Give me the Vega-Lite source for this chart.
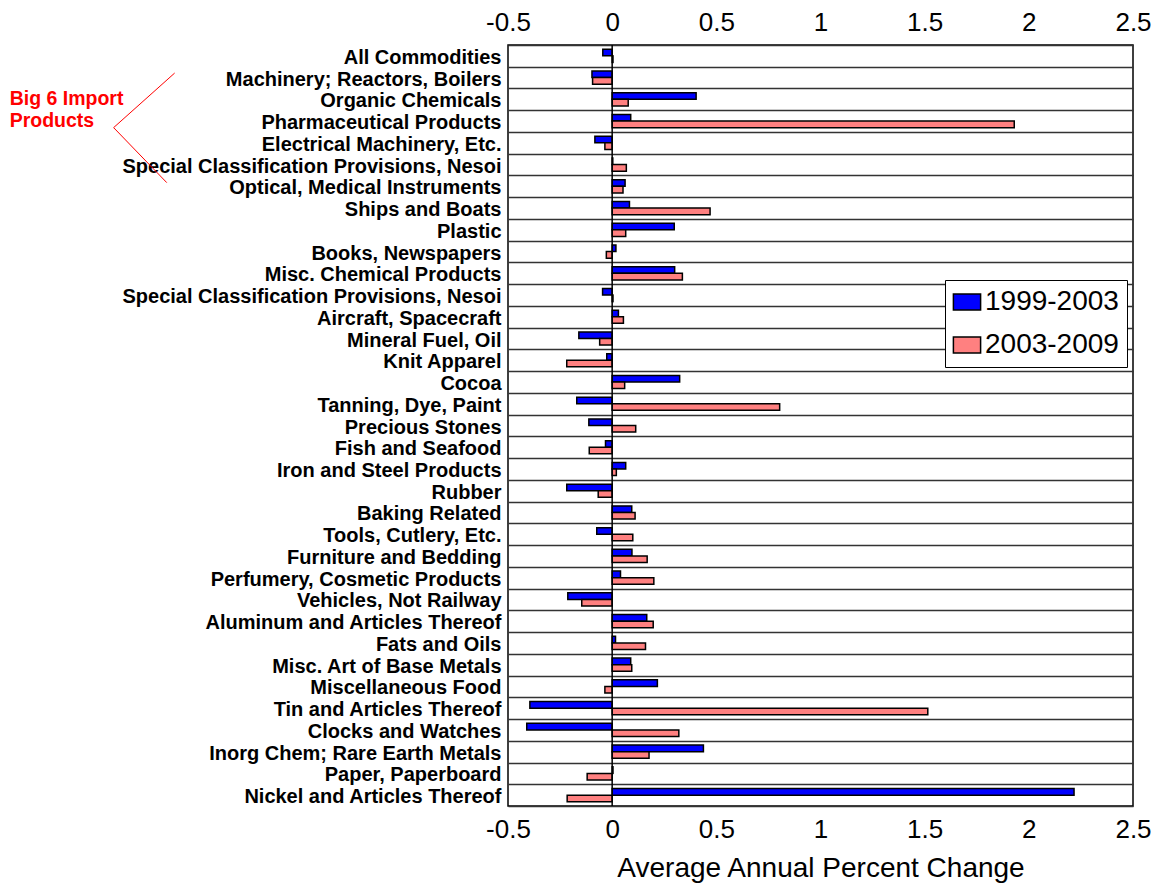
{
  "$schema": "https://vega.github.io/schema/vega-lite/v6.json",
  "width": 625,
  "height": 761,
  "autosize": {"type": "none"},
  "padding": {"left": 508, "top": 45, "right": 25, "bottom": 87},
  "background": "white",
  "config": {"view": {"stroke": "black", "strokeWidth": 1.5}, "font": "Liberation Sans"},
  "data": {"values": [
    {"cat": "All Commodities", "period": "1999-2003", "value": -0.045},
    {"cat": "All Commodities", "period": "2003-2009", "value": 0.004},
    {"cat": "Machinery; Reactors, Boilers", "period": "1999-2003", "value": -0.097},
    {"cat": "Machinery; Reactors, Boilers", "period": "2003-2009", "value": -0.094},
    {"cat": "Organic Chemicals", "period": "1999-2003", "value": 0.403},
    {"cat": "Organic Chemicals", "period": "2003-2009", "value": 0.077},
    {"cat": "Pharmaceutical Products", "period": "1999-2003", "value": 0.089},
    {"cat": "Pharmaceutical Products", "period": "2003-2009", "value": 1.93},
    {"cat": "Electrical Machinery, Etc.", "period": "1999-2003", "value": -0.083},
    {"cat": "Electrical Machinery, Etc.", "period": "2003-2009", "value": -0.035},
    {"cat": "Special Classification Provisions, Nesoi", "period": "1999-2003", "value": 0.003},
    {"cat": "Special Classification Provisions, Nesoi", "period": "2003-2009", "value": 0.068},
    {"cat": "Optical, Medical Instruments", "period": "1999-2003", "value": 0.062},
    {"cat": "Optical, Medical Instruments", "period": "2003-2009", "value": 0.052},
    {"cat": "Ships and Boats", "period": "1999-2003", "value": 0.083},
    {"cat": "Ships and Boats", "period": "2003-2009", "value": 0.47},
    {"cat": "Plastic", "period": "1999-2003", "value": 0.298},
    {"cat": "Plastic", "period": "2003-2009", "value": 0.065},
    {"cat": "Books, Newspapers", "period": "1999-2003", "value": 0.018},
    {"cat": "Books, Newspapers", "period": "2003-2009", "value": -0.028},
    {"cat": "Misc. Chemical Products", "period": "1999-2003", "value": 0.3},
    {"cat": "Misc. Chemical Products", "period": "2003-2009", "value": 0.337},
    {"cat": "Special Classification Provisions, Nesoi#2", "period": "1999-2003", "value": -0.046},
    {"cat": "Special Classification Provisions, Nesoi#2", "period": "2003-2009", "value": 0.004},
    {"cat": "Aircraft, Spacecraft", "period": "1999-2003", "value": 0.03},
    {"cat": "Aircraft, Spacecraft", "period": "2003-2009", "value": 0.054},
    {"cat": "Mineral Fuel, Oil", "period": "1999-2003", "value": -0.16},
    {"cat": "Mineral Fuel, Oil", "period": "2003-2009", "value": -0.06},
    {"cat": "Knit Apparel", "period": "1999-2003", "value": -0.026},
    {"cat": "Knit Apparel", "period": "2003-2009", "value": -0.218},
    {"cat": "Cocoa", "period": "1999-2003", "value": 0.324},
    {"cat": "Cocoa", "period": "2003-2009", "value": 0.06},
    {"cat": "Tanning, Dye, Paint", "period": "1999-2003", "value": -0.17},
    {"cat": "Tanning, Dye, Paint", "period": "2003-2009", "value": 0.804},
    {"cat": "Precious Stones", "period": "1999-2003", "value": -0.112},
    {"cat": "Precious Stones", "period": "2003-2009", "value": 0.113},
    {"cat": "Fish and Seafood", "period": "1999-2003", "value": -0.032},
    {"cat": "Fish and Seafood", "period": "2003-2009", "value": -0.11},
    {"cat": "Iron and Steel Products", "period": "1999-2003", "value": 0.065},
    {"cat": "Iron and Steel Products", "period": "2003-2009", "value": 0.02},
    {"cat": "Rubber", "period": "1999-2003", "value": -0.218},
    {"cat": "Rubber", "period": "2003-2009", "value": -0.067},
    {"cat": "Baking Related", "period": "1999-2003", "value": 0.094},
    {"cat": "Baking Related", "period": "2003-2009", "value": 0.11},
    {"cat": "Tools, Cutlery, Etc.", "period": "1999-2003", "value": -0.074},
    {"cat": "Tools, Cutlery, Etc.", "period": "2003-2009", "value": 0.099},
    {"cat": "Furniture and Bedding", "period": "1999-2003", "value": 0.095},
    {"cat": "Furniture and Bedding", "period": "2003-2009", "value": 0.168},
    {"cat": "Perfumery, Cosmetic Products", "period": "1999-2003", "value": 0.04},
    {"cat": "Perfumery, Cosmetic Products", "period": "2003-2009", "value": 0.2},
    {"cat": "Vehicles, Not Railway", "period": "1999-2003", "value": -0.213},
    {"cat": "Vehicles, Not Railway", "period": "2003-2009", "value": -0.146},
    {"cat": "Aluminum and Articles Thereof", "period": "1999-2003", "value": 0.166},
    {"cat": "Aluminum and Articles Thereof", "period": "2003-2009", "value": 0.197},
    {"cat": "Fats and Oils", "period": "1999-2003", "value": 0.016},
    {"cat": "Fats and Oils", "period": "2003-2009", "value": 0.16},
    {"cat": "Misc. Art of Base Metals", "period": "1999-2003", "value": 0.089},
    {"cat": "Misc. Art of Base Metals", "period": "2003-2009", "value": 0.094},
    {"cat": "Miscellaneous Food", "period": "1999-2003", "value": 0.217},
    {"cat": "Miscellaneous Food", "period": "2003-2009", "value": -0.035},
    {"cat": "Tin and Articles Thereof", "period": "1999-2003", "value": -0.395},
    {"cat": "Tin and Articles Thereof", "period": "2003-2009", "value": 1.515},
    {"cat": "Clocks and Watches", "period": "1999-2003", "value": -0.41},
    {"cat": "Clocks and Watches", "period": "2003-2009", "value": 0.32},
    {"cat": "Inorg Chem; Rare Earth Metals", "period": "1999-2003", "value": 0.438},
    {"cat": "Inorg Chem; Rare Earth Metals", "period": "2003-2009", "value": 0.177},
    {"cat": "Paper, Paperboard", "period": "1999-2003", "value": 0.004},
    {"cat": "Paper, Paperboard", "period": "2003-2009", "value": -0.12},
    {"cat": "Nickel and Articles Thereof", "period": "1999-2003", "value": 2.217},
    {"cat": "Nickel and Articles Thereof", "period": "2003-2009", "value": -0.216}
  ]},
  "resolve": {"scale": {"y": "independent"}, "axis": {"x": "independent", "y": "independent"}},
  "layer": [
    {
      "mark": {"type": "bar", "stroke": "black", "strokeWidth": 1.5},
      "encoding": {
        "y": {
          "field": "cat", "type": "nominal", "sort": null,
          "scale": {"paddingInner": 0, "paddingOuter": 0},
          "axis": {
            "title": null, "ticks": false, "domain": false,
            "labelExpr": "replace(datum.label, '#2', '')",
            "labelFont": "Liberation Sans", "labelFontWeight": "bold", "labelFontSize": 20,
            "labelColor": "black", "labelLimit": 500, "labelPadding": 7, "labelOffset": 1.5,
            "grid": true, "gridColor": "#333333", "gridWidth": 1.5, "tickBand": "extent"
          }
        },
        "yOffset": {"field": "period", "type": "nominal", "sort": ["1999-2003", "2003-2009"], "scale": {"paddingInner": 0, "paddingOuter": 0.65}},
        "x": {
          "field": "value", "type": "quantitative",
          "scale": {"domain": [-0.5, 2.5], "nice": false, "zero": false},
          "axis": {
            "orient": "bottom", "values": [-0.5, 0, 0.5, 1, 1.5, 2, 2.5],
            "labelExpr": "'' + datum.value",
            "ticks": false, "domain": false, "grid": false,
            "labelFont": "Liberation Sans", "labelFontSize": 26, "labelColor": "black", "labelPadding": 10, "labelFlush": false,
            "title": "Average Annual Percent Change", "titleFont": "Liberation Sans", "titleFontSize": 28,
            "titleFontWeight": "normal", "titleColor": "black", "titlePadding": 12
          }
        },
        "color": {
          "field": "period", "type": "nominal",
          "scale": {"domain": ["1999-2003", "2003-2009"], "range": ["#0000FF", "#FF8080"]},
          "legend": {
            "title": null, "orient": "none", "legendX": 437, "legendY": 235, "direction": "vertical",
            "strokeColor": "black", "fillColor": "white", "padding": 8,
            "labelFont": "Liberation Sans", "labelFontSize": 28, "labelColor": "black", "labelOffset": 4,
            "symbolType": "M-1.7,-1H1.7V1H-1.7Z", "symbolSize": 256,
            "symbolStrokeColor": "black", "symbolStrokeWidth": 1.5, "symbolOpacity": 1,
            "rowPadding": 15
          }
        }
      }
    },
    {
      "data": {"values": [{}]},
      "mark": {"type": "rule", "color": "black", "strokeWidth": 1.5},
      "encoding": {
        "x": {
          "datum": 0, "type": "quantitative",
          "axis": {
            "orient": "top", "values": [-0.5, 0, 0.5, 1, 1.5, 2, 2.5],
            "labelExpr": "'' + datum.value",
            "ticks": false, "domain": false, "grid": false, "title": null,
            "labelFont": "Liberation Sans", "labelFontSize": 26, "labelColor": "black", "labelPadding": 10, "labelFlush": false
          }
        }
      }
    },
    {
      "data": {"values": [{}]},
      "mark": {"type": "rule", "color": "#FF0000", "strokeWidth": 1, "clip": false},
      "encoding": {
        "x": {"datum": -2.393, "type": "quantitative", "axis": null},
        "x2": {"datum": -2.1},
        "y": {"datum": 3.8, "type": "quantitative", "scale": {"domain": [0, 35], "reverse": true}, "axis": null},
        "y2": {"datum": 1.29}
      }
    },
    {
      "data": {"values": [{}]},
      "mark": {"type": "rule", "color": "#FF0000", "strokeWidth": 1, "clip": false},
      "encoding": {
        "x": {"datum": -2.393, "type": "quantitative", "axis": null},
        "x2": {"datum": -2.138},
        "y": {"datum": 3.8, "type": "quantitative", "scale": {"domain": [0, 35], "reverse": true}, "axis": null},
        "y2": {"datum": 6.33}
      }
    },
    {
      "data": {"values": [{}]},
      "mark": {
        "type": "text", "text": ["Big 6 Import", "Products"], "color": "#FF0000",
        "font": "Liberation Sans", "fontWeight": "bold", "fontSize": 19.5, "lineHeight": 22,
        "align": "left", "baseline": "alphabetic", "clip": false
      },
      "encoding": {
        "x": {"datum": -2.892, "type": "quantitative", "axis": null},
        "y": {"datum": 2.74, "type": "quantitative", "scale": {"domain": [0, 35], "reverse": true}, "axis": null}
      }
    }
  ]
}
